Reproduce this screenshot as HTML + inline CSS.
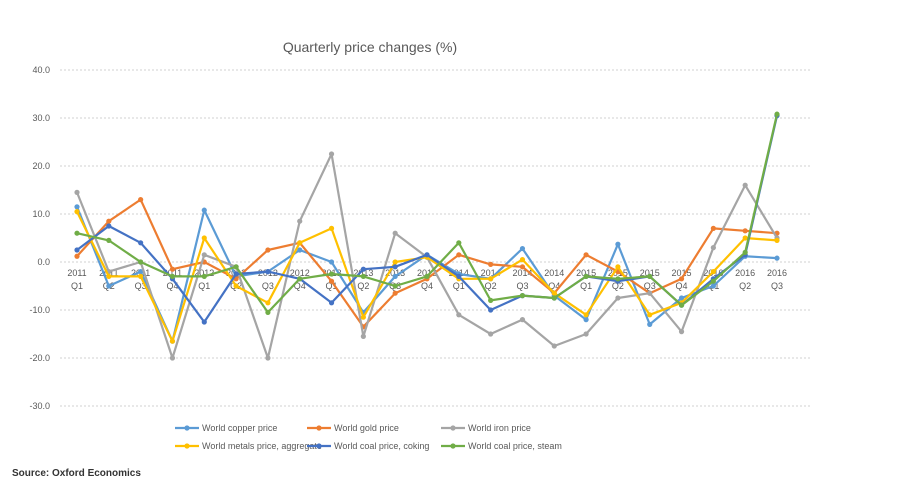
<!DOCTYPE html>
<html><head><meta charset="utf-8"><style>
body{margin:0;background:#fff;font-family:"Liberation Sans",sans-serif}
</style></head><body>
<svg id="c" width="900" height="489" xmlns="http://www.w3.org/2000/svg">
<text x="370" y="52" text-anchor="middle" font-size="14" fill="#595959">Quarterly price changes (%)</text>
<text x="12" y="476" font-size="10" font-weight="bold" fill="#333">Source: Oxford Economics</text>
<g id="grid"></g><g id="xl"></g><g id="series"></g><g id="legend"></g>
</svg>
<script>
const categories=["2011|Q1","2011|Q2","2011|Q3","2011|Q4","2012|Q1","2012|Q2","2012|Q3","2012|Q4","2013|Q1","2013|Q2","2013|Q3","2013|Q4","2014|Q1","2014|Q2","2014|Q3","2014|Q4","2015|Q1","2015|Q2","2015|Q3","2015|Q4","2016|Q1","2016|Q2","2016|Q3"];
const yTicks=[40,30,20,10,0,-10,-20,-30];
const seriesNames=["World copper price","World gold price","World iron price","World metals price, aggregate","World coal price, coking","World coal price, steam"];
const seriesColors=["#5b9bd5","#ed7d31","#a5a5a5","#ffc000","#4472c4","#70ad47"];
const copper=[11.5,-5,-2,-16.5,10.8,-3,-2,2.5,0,-10.5,-3,1.5,-2.5,-3.5,2.8,-7,-12,3.7,-13,-7.5,-5,1.2,0.8];
const gold=[1.2,8.5,13,-1.5,0,-3.5,2.5,4,-4,-13.5,-6.5,-3.5,1.5,-0.5,-1,-6.5,1.5,-2,-6.5,-3.5,7,6.5,6];
const iron=[14.5,-2,0,-20,1.5,-1,-20,8.5,22.5,-15.5,6,1,-11,-15,-12,-17.5,-15,-7.5,-6.5,-14.5,3,16,5];
const metals=[10.5,-3,-3,-16.5,5,-5,-8.5,4,7,-11.5,0,1,-3.5,-3.5,0.5,-6.5,-11,-1,-11,-8.5,-2,5,4.5];
const coking=[2.5,7.5,4,-3.5,-12.5,-2.5,-2,-3.5,-8.5,-1.5,-1,1.5,-3,-10,-7,-7.5,-3,-4,-3,-9,-3.5,1.5,30.5];
const steam=[6,4.5,0,-3,-3,-1,-10.5,-3.5,-2.5,-3,-5,-3,4,-8,-7,-7.5,-3,-3.5,-3,-9,-4,2,30.8];
const allSeries=[copper,gold,iron,metals,coking,steam];
const NS="http://www.w3.org/2000/svg";
const x=i=>77+i*(700/(categories.length-1));
const y=v=>262-v*4.8;
function mk(t,a,p){const e=document.createElementNS(NS,t);for(const k in a)e.setAttribute(k,a[k]);p.appendChild(e);return e;}
const grid=document.getElementById('grid');
yTicks.forEach(t=>{
  const l=mk('line',{x1:60,x2:810,y1:y(t),y2:y(t),stroke:'#d0d0d0','stroke-dasharray':'2,2'},grid);
  
  
  const tx=mk('text',{x:50,y:y(t)+3,'text-anchor':'end','font-size':9,fill:'#595959'},grid);
  tx.textContent=t.toFixed(1);
  
  
});
const xl=document.getElementById('xl');
categories.forEach((c,i)=>{
  const [a,b]=c.split('|');
  const t1=mk('text',{x:x(i),y:276,'text-anchor':'middle','font-size':9,fill:'#595959'},xl);t1.textContent=a;
  
  
  const t2=mk('text',{x:x(i),y:289,'text-anchor':'middle','font-size':9,fill:'#595959'},xl);t2.textContent=b;
  
  
});
const sg=document.getElementById('series');
allSeries.forEach((s,k)=>{
  const g=mk('g',{},sg);
  
  
  mk('polyline',{points:s.map((v,i)=>x(i)+','+y(v)).join(' '),fill:'none',stroke:seriesColors[k],'stroke-width':2.2,'stroke-linejoin':'round'},g);
  s.forEach((v,i)=>{const c=mk('circle',{cx:x(i),cy:y(v),r:2.6,fill:seriesColors[k]},g);
    
    });
});
const lg=document.getElementById('legend');
const lx=[175,307,441],ly=[428,446];
seriesNames.forEach((n,k)=>{
  const g=mk('g',{},lg);
  
  
  const X=lx[k%3],Y=ly[Math.floor(k/3)];
  mk('line',{x1:X,x2:X+24,y1:Y,y2:Y,stroke:seriesColors[k],'stroke-width':2.2},g);
  mk('circle',{cx:X+12,cy:Y,r:2.6,fill:seriesColors[k]},g);
  const t=mk('text',{x:X+27,y:Y+3,'font-size':9,fill:'#595959'},g);t.textContent=n;
});
</script>
</body></html>
